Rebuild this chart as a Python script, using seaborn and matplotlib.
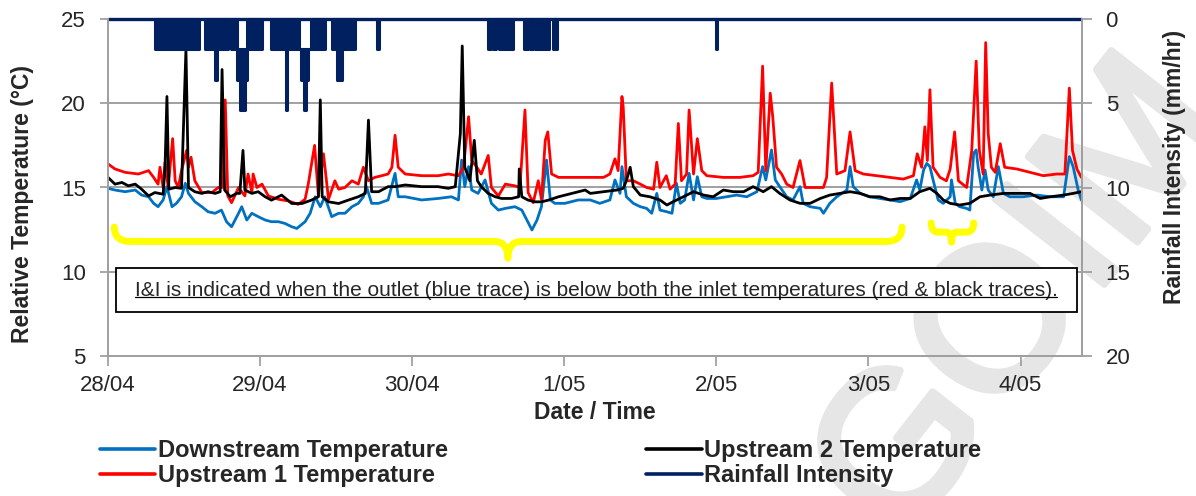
import matplotlib
matplotlib.use("Agg")
from matplotlib import pyplot as plt
from matplotlib.path import Path
from matplotlib.patches import PathPatch, Rectangle
from matplotlib.lines import Line2D
import matplotlib.patheffects as pe
import numpy as np
import pandas as pd
import seaborn as sns

# x values are hours after 28/04 00:00
day_ticks = [0, 24, 48, 72, 96, 120, 144]
day_labels = ["28/04", "29/04", "30/04", "1/05", "2/05", "3/05", "4/05"]
t_end = 153.7

# (hour, degC)
downstream = [
    (0, 14.95), (1.1, 14.85), (2.7, 14.75), (4.3, 14.85), (5.3, 14.55), (6.4, 14.45), (7.2, 14.06),
    (7.9, 13.86), (8.7, 14.26), (9.3, 15.05), (10.1, 13.86), (10.8, 14.06), (11.6, 14.45), (12.2, 15.25),
    (12.7, 14.65), (13.7, 14.16), (14.8, 13.86), (15.8, 13.56), (16.9, 13.47), (17.9, 13.66), (18.7, 12.97),
    (19.5, 12.67), (20.6, 13.47), (21.1, 13.86), (21.9, 13.07), (22.7, 13.47), (23.7, 13.27), (24.8, 13.07),
    (25.8, 12.97), (26.9, 12.97), (27.9, 12.87), (29.0, 12.67), (29.8, 12.57), (31.1, 12.97), (31.9, 13.47),
    (32.7, 14.45), (33.5, 13.86), (34.2, 14.45), (35.3, 13.27), (36.4, 13.47), (37.4, 13.47), (38.5, 13.86),
    (39.5, 14.06), (40.3, 14.45), (40.8, 15.05), (41.6, 14.06), (42.7, 14.06), (44.2, 14.26), (45.3, 15.84),
    (45.8, 14.45), (46.9, 14.45), (49.5, 14.26), (52.1, 14.35), (54.2, 14.45), (55.3, 14.26), (55.8, 16.63),
    (56.3, 15.05), (56.9, 16.24), (57.4, 14.85), (58.4, 14.65), (59.5, 15.45), (60.5, 14.06), (61.6, 13.66),
    (62.7, 13.76), (64.2, 13.86), (65.3, 13.66), (66.1, 13.07), (66.9, 12.48), (67.7, 13.07), (68.4, 13.86),
    (69.2, 16.63), (69.8, 14.26), (70.5, 14.06), (72.1, 14.06), (74.2, 14.26),
    (76.1, 14.26), (77.6, 14.06), (79.2, 14.26), (80.0, 15.45), (80.8, 14.65), (81.1, 16.24), (81.8, 14.45),
    (82.9, 14.06), (84.0, 13.86), (85.0, 13.76), (85.8, 13.47), (86.6, 14.65), (87.1, 13.66), (88.2, 13.56),
    (89.0, 13.47), (89.7, 15.25), (90.3, 14.06), (91.0, 14.26), (91.7, 15.84), (92.4, 14.26), (93.0, 15.64),
    (93.7, 14.45), (94.5, 14.35), (96.0, 14.35), (97.6, 14.45), (99.2, 14.55), (100.8, 14.45), (102.4, 14.75),
    (103.3, 16.24), (103.8, 15.45), (104.7, 17.23), (105.3, 15.45), (106.0, 15.05), (107.1, 14.45),
    (108.1, 14.26), (109.2, 15.05), (109.7, 14.06), (110.8, 13.86), (112.4, 13.76), (112.9, 13.47),
    (113.9, 14.06), (115.0, 14.45), (116.6, 14.85), (117.1, 16.24), (117.6, 15.05), (118.7, 14.65),
    (120.2, 14.45), (121.8, 14.35), (123.4, 14.26), (125.0, 14.16), (126.6, 14.35), (127.6, 15.45),
    (128.1, 14.85), (128.7, 16.04), (129.2, 16.43), (129.7, 16.24), (130.2, 15.45), (131.0, 14.26),
    (131.8, 14.06), (132.9, 14.45), (133.1, 15.45), (133.7, 14.06), (134.4, 13.86), (135.5, 13.76),
    (136.0, 13.66), (136.6, 17.03), (137.0, 17.23), (137.3, 16.24), (137.9, 14.85), (138.4, 16.04),
    (138.9, 14.85), (139.7, 14.45), (140.5, 16.24), (141.3, 14.65), (142.3, 14.45), (144.4, 14.45),
    (146.5, 14.55), (148.7, 14.45), (150.8, 14.45), (151.7, 16.83), (152.3, 16.24), (153.1, 14.85),
    (153.6, 14.26),
]

upstream_1 = [
    (0, 16.4), (1.1, 16.1), (2.7, 15.9), (4.8, 15.8), (6.4, 16.0), (7.2, 15.6), (7.9, 15.2), (8.2, 16.2),
    (8.7, 15.0), (9.0, 16.5), (9.5, 15.0), (10.2, 17.9), (10.6, 15.4), (11.1, 15.0), (11.6, 16.0), (12.4, 17.2),
    (12.7, 16.2), (13.1, 16.8), (13.7, 15.4), (14.8, 14.7), (16.4, 14.7), (17.4, 15.0), (18.0, 15.0),
    (18.5, 20.2), (18.9, 14.5), (19.5, 14.1), (20.6, 15.0), (21.6, 14.5), (22.1, 15.8), (22.7, 14.7),
    (22.9, 15.8), (23.5, 15.0), (24.3, 15.2), (25.3, 14.5), (26.9, 14.3), (28.5, 14.2), (30.0, 14.0),
    (31.1, 14.3), (31.6, 15.2), (32.6, 17.5), (33.2, 14.5), (34.0, 17.0), (34.8, 14.3), (35.8, 15.4),
    (36.4, 14.9), (37.4, 15.0), (38.5, 15.4), (39.5, 15.2), (40.3, 16.2), (41.1, 15.4), (42.1, 15.6),
    (43.2, 15.7), (44.2, 15.8), (44.8, 16.2), (45.3, 18.1), (45.8, 16.2), (46.9, 15.8), (49.5, 15.7),
    (52.1, 15.7), (53.7, 15.8), (55.3, 15.7), (56.1, 16.2), (56.9, 19.2), (57.4, 16.6), (58.2, 16.2),
    (58.9, 15.8), (60.0, 16.9), (60.5, 15.0), (61.6, 14.5), (62.7, 15.2), (64.2, 15.1), (65.0, 15.0),
    (65.8, 19.6), (66.3, 14.7), (67.1, 14.1), (67.9, 15.4), (68.4, 14.3), (69.0, 17.8), (69.4, 18.3),
    (70.0, 15.8), (71.1, 15.6), (73.2, 15.6),
    (76.1, 15.6), (78.2, 15.6), (79.2, 15.8), (80.0, 16.7), (80.5, 16.0), (81.1, 20.4), (81.3, 19.8),
    (81.8, 15.4), (82.9, 15.4), (84.0, 15.2), (85.0, 15.0), (86.1, 14.9), (86.6, 16.5), (87.1, 15.0),
    (88.1, 15.7), (88.7, 14.9), (89.5, 15.2), (90.0, 18.8), (90.5, 15.4), (91.3, 15.8), (91.7, 19.6),
    (92.4, 15.8), (93.0, 17.9), (93.7, 16.0), (94.5, 15.7), (97.1, 15.6), (99.7, 15.6), (101.8, 15.7),
    (102.6, 15.9), (103.3, 22.2), (103.8, 16.0), (104.5, 20.6), (104.9, 19.2), (105.5, 16.2), (106.3, 15.8),
    (107.1, 15.2), (108.1, 15.0), (109.2, 16.6), (110.0, 15.0), (111.3, 15.0), (112.9, 15.0), (113.4, 15.6),
    (114.2, 21.2), (115.0, 15.8), (116.3, 16.0), (117.1, 18.3), (117.9, 16.0), (119.2, 15.8), (121.3, 15.7),
    (123.4, 15.6), (125.5, 15.5), (127.1, 15.7), (127.7, 17.0), (128.4, 16.2), (128.9, 18.6), (129.3, 16.6),
    (129.7, 20.8), (130.2, 16.2), (131.3, 15.6), (132.3, 15.4), (132.9, 16.1), (133.6, 18.3), (134.2, 15.4),
    (135.5, 15.0), (136.3, 17.2), (137.0, 22.5), (137.5, 17.2), (138.1, 15.8), (138.5, 23.6), (138.9, 18.2),
    (139.4, 16.2), (140.0, 15.9), (140.8, 17.6), (141.5, 16.2), (143.4, 16.1), (145.5, 15.9), (147.6, 15.7),
    (149.7, 15.8), (151.0, 15.8), (151.7, 20.9), (152.2, 17.2), (152.9, 16.1), (153.6, 15.6),
]

upstream_2 = [
    (0, 15.6), (1.1, 15.2), (2.2, 15.3), (3.2, 15.1), (4.3, 15.2), (5.3, 14.9), (6.4, 14.5), (7.4, 14.7),
    (8.7, 14.6), (9.0, 16.2), (9.3, 20.4), (9.6, 14.9), (10.6, 15.0), (11.6, 14.95), (12.3, 23.2),
    (12.7, 15.0), (13.7, 14.75), (14.8, 14.65), (15.8, 14.75), (16.9, 14.65), (17.7, 14.75), (18.0, 22.0),
    (18.4, 14.85), (19.3, 14.45), (20.3, 14.65), (20.8, 14.65), (21.3, 17.2), (21.6, 14.85), (22.7, 14.65),
    (23.7, 14.75), (24.8, 14.45), (25.8, 14.25), (27.4, 14.55), (29.0, 14.05), (30.6, 14.05), (32.1, 14.25),
    (33.2, 14.45), (33.5, 20.2), (33.8, 14.45), (34.8, 14.15), (36.4, 14.05), (37.9, 14.25), (39.5, 14.45),
    (40.6, 14.65), (41.1, 19.0), (41.6, 14.75), (42.7, 14.75), (44.2, 15.05), (45.3, 15.05), (46.9, 15.15),
    (49.5, 15.05), (52.1, 15.05), (53.7, 14.95), (54.8, 15.05), (55.6, 18.2), (55.9, 23.4), (56.3, 16.2),
    (57.1, 15.4), (57.8, 17.8), (58.3, 15.4), (58.9, 15.05), (60.0, 14.65), (61.1, 14.45), (62.1, 14.35),
    (63.7, 14.35), (64.8, 14.45), (64.9, 16.1), (65.3, 14.45), (66.3, 14.25), (67.4, 14.15), (68.4, 14.15),
    (69.5, 14.25), (71.1, 14.45), (73.2, 14.65), (75.3, 14.85),
    (76.1, 14.65), (78.2, 14.75), (80.3, 14.85), (81.3, 14.95), (81.8, 15.4), (82.4, 16.2), (82.9, 15.05),
    (84.0, 14.55), (85.5, 14.45), (87.1, 14.26), (88.2, 13.96), (89.2, 14.16), (90.8, 14.45), (92.4, 14.75),
    (94.0, 14.55), (95.5, 14.45), (97.1, 14.85), (98.7, 14.75), (100.3, 14.75), (101.8, 15.05),
    (103.4, 14.75), (104.7, 15.05), (106.0, 14.65), (107.6, 14.26), (109.2, 14.06), (110.8, 14.06),
    (112.4, 14.35), (113.9, 14.55), (115.5, 14.65), (117.1, 14.75), (118.7, 14.65), (120.2, 14.45),
    (121.8, 14.45), (123.4, 14.26), (125.0, 14.35), (126.6, 14.35), (128.1, 14.75), (129.7, 14.95),
    (130.8, 14.65), (131.8, 14.26), (132.9, 14.06), (134.4, 13.96), (136.0, 14.06), (137.6, 14.45),
    (139.2, 14.55), (141.3, 14.65), (143.4, 14.65), (145.5, 14.65), (147.1, 14.35), (148.7, 14.45),
    (150.8, 14.55), (152.3, 14.65), (153.6, 14.75),
]

# rain bursts: start hour, end hour, low and high intensity (mm/hr)
rain_bursts = [
    (7.4, 14.0, 0.0, 1.8), (14.1, 14.3, 0.0, 1.8), (15.3, 19.0, 0.0, 1.8), (16.9, 17.2, 1.8, 3.6),
    (19.4, 20.3, 0.0, 1.8), (20.3, 21.9, 1.8, 3.6), (20.8, 21.6, 3.6, 5.4), (21.9, 24.3, 0.0, 1.8),
    (25.7, 30.1, 0.0, 1.8), (28.1, 28.3, 1.8, 5.4), (30.1, 32.0, 1.8, 1.8), (30.5, 31.6, 1.8, 3.6),
    (30.9, 31.3, 3.6, 5.4), (32.0, 34.2, 0.0, 1.8), (35.3, 36.2, 0.0, 1.8), (36.2, 37.0, 0.0, 3.6),
    (37.0, 39.0, 0.0, 1.8), (42.5, 42.7, 0.0, 1.8), (59.9, 60.5, 0.0, 1.8), (60.8, 61.3, 0.0, 1.8),
    (61.7, 63.9, 0.0, 1.8), (65.6, 66.3, 0.0, 1.8), (66.6, 67.1, 0.0, 1.8), (67.4, 69.6, 0.0, 1.8),
    (70.3, 70.8, 0.0, 1.8), (95.9, 96.1, 0.0, 1.8),
]

# yellow braces marking the I&I periods: x0, x1, cusp, end y, mid y, tip y
braces = [
    (1.0, 125.3, 63.1, 12.65, 11.8, 10.8),
    (129.9, 136.6, 133.1, 12.9, 12.35, 11.75),
]

note = "I&I is indicated when the outlet (blue trace) is below both the inlet temperatures (red & black traces)."

BLUE = "#0070c0"
RED = "#ff0000"
BLACK = "#000000"
NAVY = "#002060"
GRID = "#a0a0a0"

sns.set_style("white")
plt.rcParams["font.family"] = ["Liberation Sans", "DejaVu Sans"]

fig = plt.figure(figsize=(11.96, 4.96), dpi=100)
ax = fig.add_axes([108 / 1196, 1 - 356 / 496, 974 / 1196, 337 / 496])
ax.set_facecolor("none")

for series, colour in ((downstream, BLUE), (upstream_1, RED), (upstream_2, BLACK)):
    df = pd.DataFrame(series, columns=["hour", "temp"])
    sns.lineplot(data=df, x="hour", y="temp", ax=ax, color=colour, linewidth=2.0,
                 estimator=None, sort=False, legend=False)

ax.set_xlim(0, t_end)
ax.set_ylim(5, 25)
ax.set_yticks([5, 10, 15, 20, 25])
ax.set_xticks(day_ticks)
ax.set_xticklabels(day_labels)
ax.yaxis.grid(True, color=GRID, linewidth=1.4)
ax.xaxis.grid(False)
ax.set_axisbelow(True)
for side in ("left", "bottom", "right"):
    ax.spines[side].set_color(GRID)
    ax.spines[side].set_linewidth(1.4)
ax.spines["top"].set_visible(False)
ax.tick_params(axis="y", direction="out", length=6, width=1.3, color=GRID, pad=10, labelsize=16, left=True)
ax.tick_params(axis="x", direction="out", length=7, width=1.3, color=GRID, pad=7, labelsize=16, bottom=True)

ax.set_xlabel("Date / Time", fontsize=16.5, fontweight="bold")
ax.xaxis.set_label_coords(0.5, (356 - 401) / 337)
ax.set_ylabel("Relative Temperature (\u00b0C)", fontsize=16.5, fontweight="bold")
ax.yaxis.set_label_coords((34 - 108) / 974, (356 - 204) / 337)

# rainfall on the inverted right axis
ax2 = ax.twinx()
ax2.set_ylim(20, 0)
ax2.set_yticks([0, 5, 10, 15, 20])
ax2.plot([0, t_end], [0, 0], color=NAVY, linewidth=2.4, clip_on=False, solid_capstyle="butt")
for start, end, lo, hi in rain_bursts:
    ax2.fill_between([start, end], [lo, lo], [hi, hi], color=NAVY, edgecolor=NAVY,
                     linewidth=2.2, clip_on=False)
for side in ("left", "bottom", "right"):
    ax2.spines[side].set_color(GRID)
    ax2.spines[side].set_linewidth(1.4)
ax2.spines["top"].set_visible(False)
ax2.tick_params(axis="y", direction="out", length=7, width=1.3, color=GRID, pad=10, labelsize=16, right=True)
ax2.set_ylabel("Rainfall Intensity (mm/hr)", fontsize=16.5, fontweight="bold")
ax2.yaxis.set_label_coords((1163 - 108) / 974, (356 - 167) / 337)

# braces
for x0, x1, xc, y_end, y_mid, y_tip in braces:
    rx = min(2.5, (x1 - x0) / 6)
    rc = min(2.2, (x1 - x0) / 8)
    verts = [(x0, y_end), (x0, y_mid), (x0 + rx, y_mid),
             (xc - rc, y_mid), (xc, y_mid), (xc, y_tip),
             (xc, y_mid), (xc + rc, y_mid),
             (x1 - rx, y_mid), (x1, y_mid), (x1, y_end)]
    codes = [Path.MOVETO, Path.CURVE3, Path.CURVE3,
             Path.LINETO, Path.CURVE3, Path.CURVE3,
             Path.CURVE3, Path.CURVE3,
             Path.LINETO, Path.CURVE3, Path.CURVE3]
    ax.add_patch(PathPatch(Path(verts, codes), facecolor="none", edgecolor="#ffff00",
                           linewidth=5, capstyle="round", joinstyle="round", zorder=4))

# note box
ax.add_patch(Rectangle(((116 - 108) / 974, (356 - 312) / 337), (1077 - 116) / 974, 44 / 337,
                       transform=ax.transAxes, facecolor="white", edgecolor="black",
                       linewidth=1.3, zorder=5))
txt = ax.text((596 - 108) / 974, (356 - 290) / 337, note, transform=ax.transAxes,
              ha="center", va="center", fontsize=15, zorder=6)
fig.canvas.draw()
bb = txt.get_window_extent(renderer=fig.canvas.get_renderer())
(ux0, uy), (ux1, _) = ax.transAxes.inverted().transform([(bb.x0, bb.y0 + 2.5), (bb.x1, bb.y0 + 2.5)])
ax.add_line(Line2D([ux0, ux1], [uy, uy], transform=ax.transAxes, color="black", linewidth=0.9, zorder=6))

# legend
handles = [Line2D([], [], color=BLUE, linewidth=2.6),
           Line2D([], [], color=RED, linewidth=2.6),
           Line2D([], [], color=BLACK, linewidth=2.6),
           Line2D([], [], color=NAVY, linewidth=2.6)]
labels = ["Downstream Temperature", "Upstream 1 Temperature",
          "Upstream 2 Temperature", "Rainfall Intensity"]
fig.legend(handles, labels, loc="upper left", bbox_to_anchor=(100 / 1196, 1 - 439 / 496), ncol=2,
           frameon=False, borderpad=0, borderaxespad=0, handlelength=2.35, handletextpad=0.1,
           columnspacing=8.4, labelspacing=0.1, prop={"size": 17, "weight": "bold"})

# watermark
fig.text(900 / 1196, -50 / 496, "GOIM", rotation=52, rotation_mode="anchor", ha="left",
         va="baseline", fontsize=145, color="#e6e6e6", zorder=-1,
         path_effects=[pe.withStroke(linewidth=5, foreground="#e6e6e6")])

fig.savefig("out.png", dpi=100)
